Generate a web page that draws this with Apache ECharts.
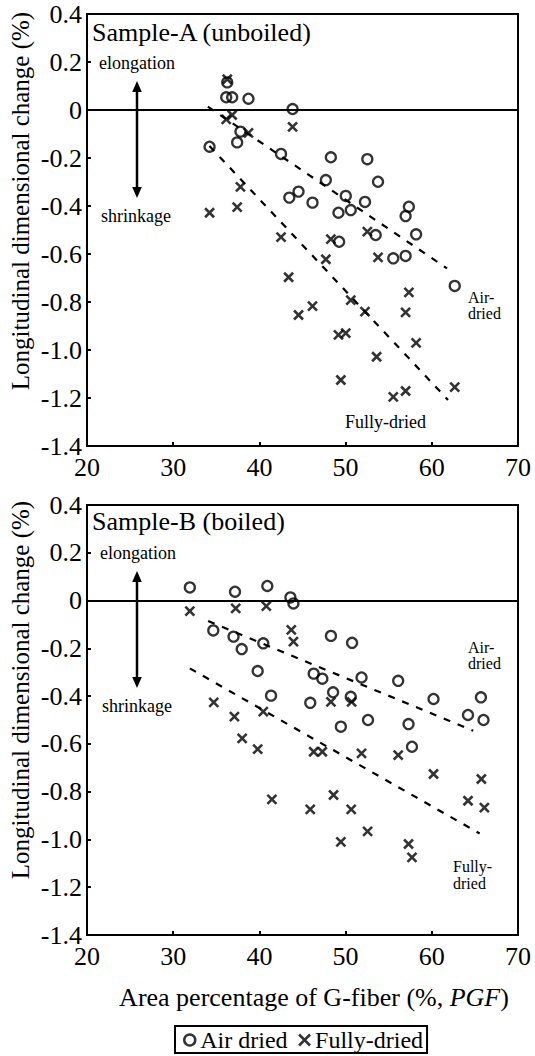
<!DOCTYPE html>
<html><head><meta charset="utf-8">
<script src="https://cdn.jsdelivr.net/npm/echarts@6/dist/echarts.min.js"></script>
<style>html,body{margin:0;padding:0;background:#fff}#c{width:535px;height:1056px}</style>
</head><body><div id="c"></div>
<script>
// ---- data ----
const xTickLabels = ['20','30','40','50','60','70'];
const yTickLabels = ['-1.4','-1.2','-1.0','-0.8','-0.6','-0.4','-0.2','0','0.2','0.4'];
const seriesNames = ['Air dried','Fully-dried'];
const panelTitles = ['Sample-A (unboiled)','Sample-B (boiled)'];

const topAir = [[36.27,0.115],[36.15,0.053],[36.84,0.053],[38.73,0.047],[43.85,0.004],[37.8,-0.09],[37.42,-0.135],[34.22,-0.153],[42.51,-0.183],[48.29,-0.197],[52.52,-0.205],[47.71,-0.292],[53.76,-0.299],[44.54,-0.34],[43.47,-0.365],[46.16,-0.386],[50.02,-0.358],[52.25,-0.383],[50.6,-0.417],[49.17,-0.428],[57.34,-0.403],[56.96,-0.442],[58.18,-0.518],[53.49,-0.521],[49.25,-0.549],[55.53,-0.618],[56.96,-0.608],[62.66,-0.733]];
const topFully = [[36.27,0.128],[36.15,-0.039],[36.84,-0.021],[38.73,-0.095],[43.85,-0.07],[37.8,-0.32],[34.22,-0.428],[37.42,-0.405],[42.51,-0.53],[48.29,-0.538],[52.52,-0.507],[47.71,-0.622],[53.76,-0.614],[43.39,-0.697],[57.34,-0.76],[46.16,-0.817],[44.54,-0.854],[50.6,-0.792],[52.25,-0.84],[56.96,-0.843],[49.17,-0.937],[50.02,-0.93],[58.18,-0.97],[53.6,-1.028],[49.45,-1.125],[55.53,-1.195],[56.96,-1.171],[62.66,-1.155]];
const bottomAir = [[31.93,0.055],[37.17,0.037],[40.92,0.061],[43.6,0.013],[43.95,-0.012],[34.65,-0.125],[37.0,-0.151],[37.95,-0.203],[40.45,-0.179],[48.3,-0.148],[50.75,-0.177],[39.8,-0.295],[46.3,-0.306],[47.3,-0.327],[51.85,-0.322],[56.1,-0.336],[41.35,-0.398],[48.55,-0.384],[45.9,-0.428],[50.6,-0.403],[60.2,-0.412],[65.7,-0.405],[64.2,-0.479],[66.0,-0.5],[52.6,-0.5],[49.45,-0.528],[57.3,-0.517],[57.7,-0.612]];
const bottomFully = [[31.93,-0.044],[37.25,-0.033],[40.8,-0.023],[43.7,-0.123],[43.95,-0.172],[34.7,-0.426],[37.1,-0.486],[40.45,-0.465],[48.3,-0.424],[50.7,-0.424],[38.0,-0.577],[39.8,-0.622],[46.3,-0.633],[47.3,-0.633],[51.85,-0.64],[56.1,-0.647],[60.2,-0.726],[65.75,-0.747],[64.2,-0.838],[66.1,-0.867],[41.45,-0.832],[45.9,-0.874],[48.6,-0.814],[50.65,-0.874],[52.55,-0.966],[49.45,-1.01],[57.3,-1.019],[57.7,-1.075]];
const topAirFit = [[34.02,0.014],[61.77,-0.66]];
const topFullyFit = [[34.2,-0.15],[61.88,-1.208]];
const bottomAirFit = [[34.05,-0.086],[64.8,-0.545]];
const bottomFullyFit = [[31.93,-0.284],[65.55,-0.975]];

// ---- chart ----
const FONT = "'Liberation Serif', serif";
const CROSS = 'path://M0,0L10,10M0,10L10,0';
const chart = echarts.init(document.getElementById('c'), null, {renderer:'svg'});

function xAxis(i){
  return {gridIndex:i, type:'value', min:20, max:70, interval:10,
    axisLine:{show:true, onZero:false, lineStyle:{color:'#000', width:2}},
    axisTick:{show:true, inside:true, length:4, lineStyle:{color:'#000', width:2}},
    splitLine:{show:false},
    axisLabel:{color:'#000', fontFamily:FONT, fontSize:26, margin:8,
      formatter:v=>xTickLabels[Math.round((v-20)/10)]}};
}
function yAxis(i){
  return {gridIndex:i, type:'value', min:-1.4, max:0.4, interval:0.2,
    axisLine:{show:true, onZero:false, lineStyle:{color:'#000', width:2}},
    axisTick:{show:true, inside:true, length:4, lineStyle:{color:'#000', width:2}},
    splitLine:{show:false},
    axisLabel:{color:'#000', fontFamily:FONT, fontSize:26, margin:5,
      formatter:v=>yTickLabels[Math.round((v+1.4)/0.2)]}};
}
function fit(i, data){
  return {type:'line', xAxisIndex:i, yAxisIndex:i, data:data, symbol:'none', silent:true, z:1,
    lineStyle:{color:'#000', width:2.2, type:[7,8]}};
}
function air(i, data){
  return {name:seriesNames[0], type:'scatter', xAxisIndex:i, yAxisIndex:i, data:data, symbol:'circle', symbolSize:10, z:4,
    itemStyle:{color:'rgba(0,0,0,0)', borderColor:'#000', borderWidth:2.3},
    markLine:{silent:true, symbol:'none', label:{show:false}, data:[{yAxis:0}],
      lineStyle:{color:'#000', width:2, type:'solid'}}};
}
function fully(i, data){
  return {name:seriesNames[1], type:'scatter', xAxisIndex:i, yAxisIndex:i, data:data, symbol:CROSS, symbolSize:9, z:3,
    itemStyle:{color:'none', borderColor:'#000', borderWidth:2.6}};
}
function txt(x, y, text, size, extra){
  return Object.assign({type:'text', x:x, y:y, z:100,
    style:{text:text, fill:'#000', font:size+'px '+FONT, align:'left', verticalAlign:'middle',
      textAlign:'left', textVerticalAlign:'middle'}}, extra||{});
}
function arrow(x, y1, y2){
  return [
    {type:'line', z:100, shape:{x1:x, y1:y1+8, x2:x, y2:y2-8}, style:{stroke:'#000', lineWidth:2.5}},
    {type:'polygon', z:100, shape:{points:[[x,y1],[x-4.8,y1+11],[x+4.8,y1+11]]}, style:{fill:'#000'}},
    {type:'polygon', z:100, shape:{points:[[x,y2],[x-4.8,y2-11],[x+4.8,y2-11]]}, style:{fill:'#000'}}
  ];
}
function multi(x, y, text, size, lh){
  return {type:'text', x:x, y:y, z:100,
    style:{text:text, fill:'#000', font:size+'px '+FONT, lineHeight:lh, align:'left', verticalAlign:'top',
      textAlign:'left', textVerticalAlign:'top'}};
}
function ytitle(y){
  return {type:'text', x:20, y:y, rotation:Math.PI/2, z:100,
    style:{text:'Longitudinal dimensional change (%)', fill:'#000', font:'25px '+FONT,
      align:'center', verticalAlign:'middle', textAlign:'center', textVerticalAlign:'middle'}};
}

const graphics = [
  txt(92, 32, panelTitles[0], 26),
  txt(92, 521, panelTitles[1], 26),
  txt(99, 63, 'elongation', 18),
  txt(101, 216, 'shrinkage', 18),
  txt(100, 553, 'elongation', 18),
  txt(102, 706, 'shrinkage', 18),
  ...arrow(137, 81, 198),
  ...arrow(137, 571, 688),
  multi(468, 289, 'Air-\ndried', 16, 16),
  txt(345, 422, 'Fully-dried', 18),
  multi(468, 639, 'Air-\ndried', 16, 16),
  multi(453, 858, 'Fully-\ndried', 16, 17),
  ytitle(201),
  ytitle(690),
  {type:'text', x:314, y:997, z:100,
    style:{text:'{a|Area percentage of G-fiber (%, }{b|PGF}{a|)}', fill:'#000',
      align:'center', verticalAlign:'middle', textAlign:'center', textVerticalAlign:'middle',
      rich:{a:{fontFamily:FONT, fontSize:26, color:'#000'}, b:{fontFamily:FONT, fontSize:26, fontStyle:'italic', color:'#000'}}}}
];

chart.setOption({
  animation:false,
  backgroundColor:'#fff',
  grid:[
    {left:87, top:14, width:431, height:432, show:true, borderColor:'#000', borderWidth:2, backgroundColor:'transparent'},
    {left:87, top:505, width:431, height:430, show:true, borderColor:'#000', borderWidth:2, backgroundColor:'transparent'}
  ],
  xAxis:[xAxis(0), xAxis(1)],
  yAxis:[yAxis(0), yAxis(1)],
  legend:{show:true, selectedMode:false, left:175, top:1026, orient:'horizontal',
    padding:[2,4,1,8], itemGap:9, itemWidth:11, itemHeight:11,
    borderColor:'#000', borderWidth:2,
    textStyle:{color:'#000', fontFamily:FONT, fontSize:24},
    data:[
      {name:seriesNames[0], icon:'circle', itemStyle:{color:'rgba(0,0,0,0)', borderColor:'#000', borderWidth:2.5}},
      {name:seriesNames[1], icon:CROSS, itemStyle:{color:'none', borderColor:'#000', borderWidth:2.6}}
    ]},
  graphic:graphics,
  series:[
    fit(0, topAirFit), fit(0, topFullyFit), fit(1, bottomAirFit), fit(1, bottomFullyFit),
    fully(0, topFully), air(0, topAir), fully(1, bottomFully), air(1, bottomAir)
  ]
});
</script></body></html>
